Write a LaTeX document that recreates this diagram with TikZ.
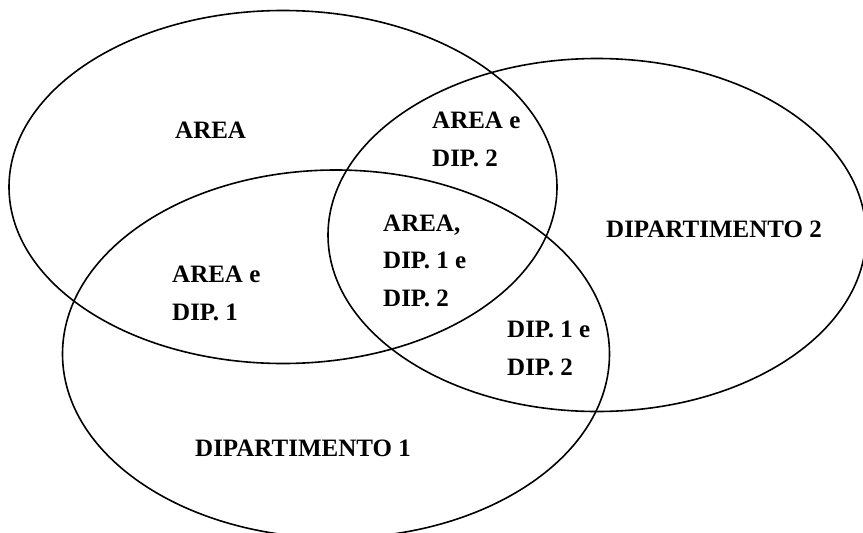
\documentclass[tikz,border=0pt]{standalone}
\usepackage{fontspec}
\setmainfont{Liberation Serif}
\usepackage{tikz}

\begin{document}
\begin{tikzpicture}[x = 1pt, y = -1pt,
  setline/.style = {line width = 1.6pt},
  setlabel/.style = {anchor = base west, align = left, inner sep = 0pt,
    font = \fontsize{25}{37.5}\selectfont\bfseries}]
\useasboundingbox (0,0) rectangle (863,533);
\clip (0,0) rectangle (863,533);

% centres of the three sets
\coordinate (area) at (283,187);
\coordinate (dipdue) at (597,235);
\coordinate (dipuno) at (336,354);

\draw[setline] (area) ellipse [x radius = 274, y radius = 176.5];
\draw[setline] (dipdue) ellipse [x radius = 269, y radius = 176.5];
\draw[setline] (dipuno) ellipse [x radius = 273.5, y radius = 184];

% base anchor sits on the last line
\node[setlabel] (lblarea) at (175,138) {AREA};
\node[setlabel] (lblareadue) at (432,166) {AREA e\\DIP. 2};
\node[setlabel] (lblareauno) at (172,320) {AREA e\\DIP. 1};
\node[setlabel] (lbltutti) at (383,306) {AREA,\\DIP. 1 e\\DIP. 2};
\node[setlabel] (lblunodue) at (507,375) {DIP. 1 e\\DIP. 2};
\node[setlabel] (lbldue) at (606,237) {DIPARTIMENTO 2};
\node[setlabel] (lbluno) at (195,456) {DIPARTIMENTO 1};
\end{tikzpicture}
\end{document}
